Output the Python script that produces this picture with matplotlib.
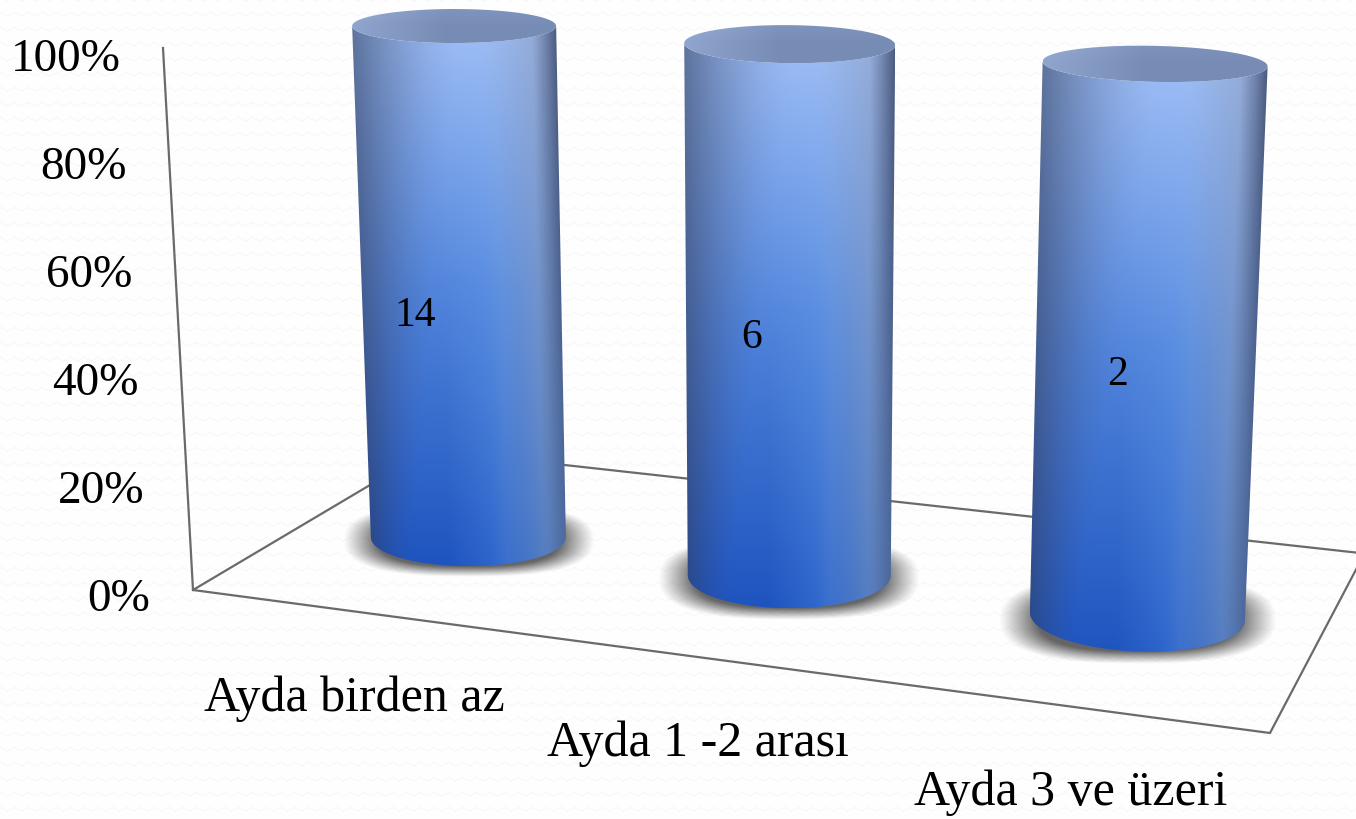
import matplotlib

matplotlib.use("Agg")
import matplotlib.pyplot as plt
import numpy as np
from matplotlib.patches import PathPatch
from matplotlib.path import Path as MplPath

CATEGORIES = ["Ayda birden az", "Ayda 1 -2 arası", "Ayda 3 ve üzeri"]
COUNTS = [14, 6, 2]
SHARE = [100, 100, 100]
TICK_VALUES = [0, 20, 40, 60, 80, 100]

WIDTH, HEIGHT = 1356, 819
FONT = "Liberation Serif"

# pixel anchors of the fake 3d view: bar slot, value -> picture
SLOTS = [0, 0, 1, 1, 2, 2]
LEVELS = [0, 100, 0, 100, 0, 100]
ANCHOR_X = [468, 454, 790, 790, 1137, 1155]
ANCHOR_Y = [537, 25, 575, 47, 617, 62]

# cylinder look per bar
BASE_HALF = [97.5, 101.5, 107.5]
TOP_HALF = [102, 105.5, 112.5]
BASE_DEPTH = [29, 33, 35]
TOP_DEPTH = [17, 19, 18]
BASE_TILT = [0, 0, 4]
TOP_TILT = [0, 1, 2.5]
VALUE_OFFSET = [(-46, 28), (-38, 22), (-29, 28)]
LABEL_NUDGE = [(-18, 85), (-34, 82), (-20, 84)]

LINE_COLOR = "#6a6a6a"


def fit_view():
    rows = []
    rhs = []
    for u, v, px, py in zip(SLOTS, LEVELS, ANCHOR_X, ANCHOR_Y):
        rows.append([u, v, 1, 0, 0, 0, -u * px, -v * px])
        rows.append([0, 0, 0, u, v, 1, -u * py, -v * py])
        rhs += [px, py]
    h = np.linalg.lstsq(np.array(rows, float), np.array(rhs, float), rcond=None)[0]
    return np.append(h, 1).reshape(3, 3)


VIEW = fit_view()


def project(slot, value):
    x, y, w = VIEW @ np.array([slot, value, 1.0])
    return x / w, y / w


def background():
    yy, xx = np.mgrid[0:HEIGHT, 0:WIDTH]
    phase = np.abs(((xx % 14) / 14.0) * 2 - 1) * 4
    band = (yy + phase) % 15
    return np.where(band < 1.5, 0.97, 0.995)


def mix(a, b, amount):
    return a + (b - a) * amount[..., None]


def body_color(h, v):
    top = np.array([0.64, 0.76, 0.97])
    mid = np.array([0.32, 0.52, 0.86])
    low = np.array([0.12, 0.33, 0.75])
    vv = v[..., None]
    base = np.where(vv < 0.5, top + (mid - top) * (vv / 0.5), mid + (low - mid) * ((vv - 0.5) / 0.5))
    # brighter band right of the middle, mostly towards the foot
    glow = np.clip(1 - np.abs(h - 0.7) / 0.3, 0, 1) * v * 0.1
    out = np.clip(base + glow[..., None] * np.array([0.8, 0.9, 0.6]), 0, 1)

    left_edge = np.array([0.38, 0.46, 0.62]) * (1 - vv) + np.array([0.16, 0.28, 0.54]) * vv
    grey_right = np.array([0.58, 0.66, 0.82]) * (1 - vv) + np.array([0.38, 0.53, 0.76]) * vv
    dark_right = np.array([0.30, 0.36, 0.50]) * (1 - vv) + np.array([0.30, 0.41, 0.62]) * vv
    # the side shade is wide near the lid and narrows towards the foot
    reach = 0.55 - 0.33 * v
    out = mix(out, left_edge, np.clip((reach - h) / reach, 0, 1) ** 1.6)
    out = mix(out, grey_right, np.clip((h - 0.62) / 0.3, 0, 1) ** 1.2 * 0.9)
    out = mix(out, dark_right, np.clip((h - 0.88) / 0.12, 0, 1) ** 1.2)
    return np.clip(out, 0, 1)


def lid_color(h, v):
    centre = np.array([0.47, 0.55, 0.71])
    bright = np.array([0.60, 0.69, 0.85])
    shade = np.clip((0.45 - h) / 0.45, 0, 1) * 0.7 + np.clip(0.45 - v, 0, 0.45) * 0.5
    return mix(centre[None, None, :], bright, np.clip(shade, 0, 1))


def draw_shadow(ax, cx, cy, half, depth):
    xs = np.linspace(-1, 1, 300)
    ys = np.linspace(-1, 1, 200)
    gx, gy = np.meshgrid(xs, ys)
    r = (np.abs(gx) ** 2.6 + np.abs(gy) ** 2.6) ** (1 / 2.6)
    rgba = np.zeros(r.shape + (4,))
    rgba[..., :3] = 0.25
    rgba[..., 3] = np.clip((1 - r) / 0.28, 0, 1) ** 1.1 * 0.8
    rx, ry = half * 1.29, depth * 1.27
    ax.imshow(
        rgba,
        extent=(cx - rx, cx + rx, cy + 3 + ry, cy + 3 - ry),
        zorder=2,
        aspect="auto",
        interpolation="bilinear",
    )


def draw_cylinder(ax, slot, share):
    bx, by = project(slot, 0)
    tx, ty = project(slot, share)
    bh, th = BASE_HALF[slot], TOP_HALF[slot]
    bd, td = BASE_DEPTH[slot], TOP_DEPTH[slot]
    bt, tt = BASE_TILT[slot], TOP_TILT[slot]

    draw_shadow(ax, bx, by, bh, bd)

    angles = np.linspace(np.pi, 0, 80)
    # front of the base runs left to right, front of the lid comes back right to left
    base_x = bx + bh * np.cos(angles)
    base_y = by + bd * np.sin(angles) + bt * np.cos(angles)
    lid_x = tx + th * np.cos(angles[::-1])
    lid_y = ty + td * np.sin(angles[::-1]) + tt * np.cos(angles[::-1])
    outline = np.column_stack([np.r_[base_x, lid_x], np.r_[base_y, lid_y]])
    body = MplPath(np.vstack([outline, outline[0]]), closed=True)

    left = min(bx - bh, tx - th)
    right = max(bx + bh, tx + th)
    upper = ty - td - tt
    lower = by + bd + bt
    h, v = np.meshgrid(np.linspace(0, 1, 300), np.linspace(0, 1, 400))
    # shade follows the slanted sides
    px = left + h * (right - left)
    py = upper + v * (lower - upper)
    frac = np.clip((py - ty) / (by - ty), 0, 1)
    edge_l = (tx - th) + frac * ((bx - bh) - (tx - th))
    edge_r = (tx + th) + frac * ((bx + bh) - (tx + th))
    rel = np.clip((px - edge_l) / (edge_r - edge_l), 0, 1)
    img = ax.imshow(
        body_color(rel, v),
        extent=(left, right, lower, upper),
        zorder=3,
        aspect="auto",
        interpolation="bilinear",
    )
    img.set_clip_path(PathPatch(body, transform=ax.transData))

    # lid
    full = np.linspace(0, 2 * np.pi, 160)
    lid = MplPath(
        np.column_stack([tx + th * np.cos(full), ty + td * np.sin(full) + tt * np.cos(full)]),
        closed=True,
    )
    lh, lv = np.meshgrid(np.linspace(0, 1, 200), np.linspace(0, 1, 80))
    lid_img = ax.imshow(
        lid_color(lh, lv),
        extent=(tx - th, tx + th, ty + td + tt, ty - td - tt),
        zorder=4,
        aspect="auto",
        interpolation="bilinear",
    )
    lid_img.set_clip_path(PathPatch(lid, transform=ax.transData))


def main() -> None:
    plt.rcParams["font.family"] = [FONT, "DejaVu Serif"]
    fig = plt.figure(figsize=(WIDTH / 100, HEIGHT / 100), dpi=100)
    ax = fig.add_axes([0, 0, 1, 1])
    ax.imshow(background(), cmap="gray", vmin=0, vmax=1, extent=(0, WIDTH, HEIGHT, 0), zorder=0, aspect="auto")

    # wall and floor
    ax.plot([163, 193, 1270, 1360], [48, 590, 733, 562], color=LINE_COLOR, lw=1.6, zorder=1)
    ax.plot([193, 429, 1360], [590, 450, 553], color=LINE_COLOR, lw=1.6, zorder=1)

    for slot, share in enumerate(SHARE):
        draw_cylinder(ax, slot, share)

    for value in TICK_VALUES:
        frac = value / 100
        x = 150 + (121 - 150) * frac
        y = 600 + (60 - 600) * frac
        ax.text(x, y, f"{value}%", fontsize=34, ha="right", va="center", color="black", zorder=5)

    for slot, count in enumerate(COUNTS):
        mx, my = project(slot, SHARE[slot] / 2)
        dx, dy = VALUE_OFFSET[slot]
        ax.text(mx + dx, my + dy, str(count), fontsize=30, ha="center", va="center", color="black", zorder=6)

    for slot, name in enumerate(CATEGORIES):
        t = (slot + 0.5) / len(CATEGORIES)
        dx, dy = LABEL_NUDGE[slot]
        ax.text(193 + 1077 * t + dx, 590 + 143 * t + dy, name, fontsize=36, ha="center", va="center",
                color="black", zorder=5)

    ax.set_xlim(0, WIDTH)
    ax.set_ylim(HEIGHT, 0)
    ax.axis("off")
    fig.savefig("out.png", dpi=100)
    plt.close(fig)


if __name__ == "__main__":
    main()
